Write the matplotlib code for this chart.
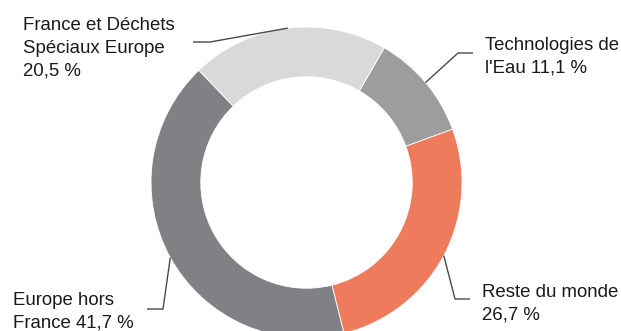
import numpy as np
import matplotlib.pyplot as plt

plt.rcParams['font.family'] = ['Liberation Sans', 'DejaVu Sans']

# data
labels = ['Technologies de\nl\'Eau 11,1 %', 'Reste du monde\n26,7 %',
          'Europe hors\nFrance 41,7 %', 'France et Déchets\nSpéciaux Europe\n20,5 %']
shares = [11.1, 26.7, 41.7, 20.5]
colors = ['#9d9d9d', '#ef7b5d', '#808184', '#d9d9d9']

# label layout in pixels: elbow point, line end, text anchor, alignment
layout = [
    dict(elbow=(458, 53), end=(473, 53), text=(485, 37), ha='left'),
    dict(elbow=(455, 299), end=(470, 299), text=(482, 284), ha='left'),
    dict(elbow=(163, 309), end=(147, 309), text=(13, 292), ha='left'),
    dict(elbow=(210, 42), end=(193, 42), text=(23, 17), ha='left'),
]

W, H = 621, 331
fig = plt.figure(figsize=(W / 100, H / 100), dpi=100)
ax = fig.add_axes([0, 0, 1, 1])

cx, cy, R = 306.5, 182.5, 155.5
wedges, _ = ax.pie(shares, colors=colors, startangle=-60, counterclock=True,
                   center=(cx, cy), radius=R,
                   wedgeprops=dict(width=R * 0.32, edgecolor='white', linewidth=0.6))
ax.set_xlim(0, W)
ax.set_ylim(H, 0)
ax.set_aspect('equal', adjustable='box')
ax.axis('off')

for w, lab, lay in zip(wedges, labels, layout):
    mid = np.deg2rad((w.theta1 + w.theta2) / 2)
    x0 = cx + R * np.cos(mid)
    y0 = cy + R * np.sin(mid)
    xs = [x0, lay['elbow'][0], lay['end'][0]]
    ys = [y0, lay['elbow'][1], lay['end'][1]]
    ax.plot(xs, ys, color='#4a4a4a', lw=1.0, solid_capstyle='butt', clip_on=False)
    ax.text(lay['text'][0], lay['text'][1], lab, ha=lay['ha'], va='top',
            fontsize=13.4, color='#1a1a1a', linespacing=1.43)

fig.savefig('out.png', dpi=100)
